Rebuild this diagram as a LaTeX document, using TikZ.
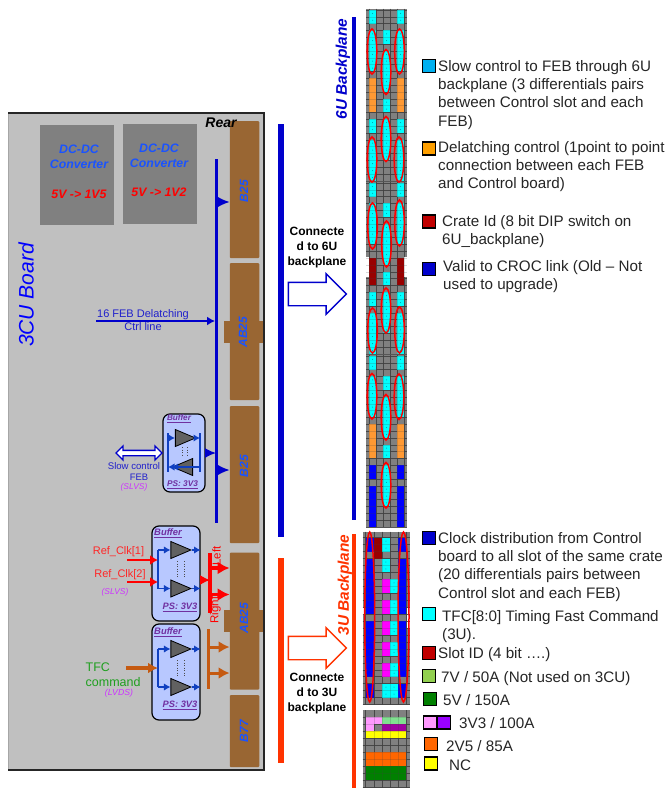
\documentclass[tikz,border=0pt]{standalone}
\usepackage{fontspec}
\setmainfont{Liberation Sans}
\usetikzlibrary{arrows.meta,shapes.geometric,shapes.arrows,calc}
\definecolor{brd}{HTML}{C0C0C0}
\definecolor{brownc}{HTML}{996633}
\definecolor{busblue}{HTML}{0000CC}
\definecolor{txtblue}{HTML}{1A53FF}
\definecolor{lblblue}{HTML}{2020CC}
\definecolor{bufblue}{HTML}{1040C0}
\definecolor{buffill}{HTML}{B8C8FF}
\definecolor{bufpur}{HTML}{7030A0}
\definecolor{pinkt}{HTML}{CC33FF}
\definecolor{tfcor}{HTML}{C55A11}
\definecolor{redor}{HTML}{FF3300}
\definecolor{tfcgr}{HTML}{1F9F1F}
\definecolor{gcell}{HTML}{808080}
\definecolor{gline}{HTML}{404040}
\definecolor{orcell}{HTML}{FF9933}
\definecolor{crred}{HTML}{990000}
\definecolor{ccyan}{HTML}{00FFFF}
\definecolor{cmag}{HTML}{FF00FF}
\definecolor{cyel}{HTML}{FFFF00}
\definecolor{cpink}{HTML}{FF99FF}
\definecolor{cpur}{HTML}{A000A0}
\definecolor{lpur}{HTML}{9900FF}
\definecolor{clgr}{HTML}{80E090}
\definecolor{cora}{HTML}{FF6600}
\definecolor{cgrn}{HTML}{008000}
\definecolor{cdot}{HTML}{009AA8}
\definecolor{legblue}{HTML}{0000CC}
\definecolor{legred}{HTML}{C00000}
\definecolor{legcy}{HTML}{00B0F0}
\definecolor{legor}{HTML}{FFA000}
\definecolor{leglg}{HTML}{92D050}
\newcommand{\fsz}[2]{\fontsize{#1}{#2}\selectfont}
\tikzset{
 x=1pt,y=-1pt,
 conn/.style={fill=brownc,rounded corners=1pt,inner sep=0pt,minimum width=29.5pt},
 conntab/.style={fill=brownc,inner sep=0pt,minimum width=39pt,minimum height=22pt},
 connlbl/.style={rotate=90,text=txtblue,font=\fsz{12}{14}\bfseries\itshape,inner sep=0pt},
 dcbox/.style={fill=gcell,inner sep=0pt,minimum width=74pt,minimum height=100pt},
 dcl/.style={font=\fsz{12.3}{15}\bfseries\itshape,inner sep=0pt,align=center},
 bufbox/.style={draw=black,line width=1.2pt,fill=buffill,rounded corners=7pt,inner sep=0pt},
 buftxt/.style={text=bufpur,font=\bfseries\itshape,inner sep=0pt},
 trir/.style={isosceles triangle,isosceles triangle apex angle=60,isosceles triangle stretches,draw=black,line width=.8pt,fill=black!62,inner sep=0pt,minimum height=20pt,minimum width=17pt,shape border rotate=0},
 tril/.style={trir,shape border rotate=180},
 bufar/.style={bufblue,line width=1.3pt,-{Latex[length=6.5pt,width=7.5pt]}},
 bufln/.style={bufblue,line width=1.3pt},
 busar/.style={busblue,line width=1.6pt,-{Latex[length=13pt,width=12pt]}},
 redar/.style={red,line width=3.2pt,-{Latex[length=12pt,width=13pt]}},
 orar/.style={tfcor,line width=3pt,-{Latex[length=11pt,width=12pt]}},
 lbl/.style={inner sep=0pt,align=center},
 bigarr/.style={single arrow,draw,line width=1.4pt,fill=white,inner sep=0pt,minimum height=58pt,minimum width=38pt,single arrow head extend=8.5pt,single arrow head indent=0pt,shape border rotate=0,text height=14pt,text depth=8pt,text width=1pt},
 contxt/.style={inner sep=0pt,align=center,font=\fsz{12}{15}\bfseries},
 legbox/.style={draw=black,line width=1.3pt,inner sep=0pt,minimum width=13pt,minimum height=13pt},
 legtxt/.style={inner sep=0pt,anchor=north west,align=left,font=\fsz{15.2}{18.3},text=black!85},
 ovl/.style={draw=red,line width=1.5pt},
}
% cell block: column, first row, last row, colour
\newcommand{\blk}[4]{\fill[#4] ({\gx+#1*\cw},{\gy+#2*\rh}) rectangle ({\gx+(#1+1)*\cw},{\gy+(#3+1)*\rh});}
% cyan block with tiny marks
\newcommand{\cyb}[3]{\blk{#1}{#2}{#3}{ccyan}\foreach \rr in {#2,...,#3}{\fill[cdot] ({\gx+(#1+.5)*\cw},{\gy+(\rr+.5)*\rh}) circle (.5pt);}}
\newcommand{\glines}[5]{%
 \foreach \ii in {0,...,5}{\draw[gline,line width=.45pt,opacity=#5] ({\gx+\ii*\cw},#3) -- ({\gx+\ii*\cw},#4);}
 \pgfmathtruncatemacro{\nr}{(#4-\gy)/\rh}
 \foreach \ii in {0,...,\nr}{\draw[gline,line width=.45pt,opacity=#5] (#1,{\gy+\ii*\rh}) -- (#2,{\gy+\ii*\rh});}
}
\newcommand{\ovalc}[4]{\draw[ovl] (#1,{(#2+#3)/2}) ellipse [x radius=#4 pt,y radius={(#3-#2)/2 pt}];}
\begin{document}
\begin{tikzpicture}
\useasboundingbox (0,0) rectangle (668,788);
\fill[white] (0,0) rectangle (668,788);
% ---------- board
\fill[brd] (8,113) rectangle (264,770);
\draw[black!35,line width=1pt] (8,770) -- (8,113);
\draw[black!85,line width=1.2pt] (8,113) -- (264,113) -- (264,770) -- (8,770);
\node[rotate=90,text=blue,font=\fsz{21}{24}\itshape,inner sep=0pt] (brdname) at (26,295) {3CU Board};
\node[dcbox] (dc1) at (77,175) {};
\node[dcbox] (dc2) at (160,174) {};
\node[dcl,text=txtblue] (dc1a) at (79,157) {DC-DC\\Converter};
\node[dcl,text=red] (dc1b) at (79,194) {5V -> 1V5};
\node[dcl,text=txtblue] (dc2a) at (159,156) {DC-DC\\Converter};
\node[dcl,text=red] (dc2b) at (159,192) {5V -> 1V2};
% ---------- connectors
\node[conn,minimum height=137pt] (b1) at (244.5,189.5) {};
\node[conn,minimum height=137pt] (ab1) at (244.5,331.5) {};
\node[conntab] (ab1t) at (243.5,332) {};
\node[conn,minimum height=137pt] (b2) at (244.5,474.5) {};
\node[conn,minimum height=137pt] (ab2) at (244.5,621) {};
\node[conntab] (ab2t) at (243,621) {};
\node[conn,minimum height=72pt] (b77) at (244.5,731) {};
\node[connlbl] (b1l) at (244,191) {B25};
\node[connlbl] (ab1l) at (243,332) {AB25};
\node[connlbl] (b2l) at (244,466) {B25};
\node[connlbl] (ab2l) at (244,618) {AB25};
\node[connlbl] (b77l) at (244,731) {B77};
\node[inner sep=0pt,font=\fsz{14}{16}\bfseries\itshape] (rear) at (221,122.5) {Rear};
% ---------- delatching bus
\coordinate (bustop) at (216,159);
\coordinate (busbot) at (216,523);
\draw[busblue,line width=3pt] (bustop) -- (busbot);
\coordinate (tapa) at (216,202);
\draw[busar] (tapa) -- (tapa -| b1.west);
\coordinate (tapb) at (216,470);
\draw[busar] (tapb) -- (tapb -| b2.west);
\coordinate (delin) at (96,321);
\coordinate (delout) at (215,321);
\draw[busblue,line width=1.5pt,-{Latex[length=8pt,width=9pt]}] (delin) -- (delout);
\node[lbl,text=lblblue,font=\fsz{11}{13}] (deltxt) at (143,320.5) {16 FEB Delatching\\Ctrl line};
% ---------- buffer 1
\node[bufbox,minimum width=42pt,minimum height=78pt] (buf1) at (184,453) {};
\node[buftxt,font=\fsz{8.2}{10}\bfseries\itshape] (buf1t) at (179,419) {\underline{Buffer}};
\node[buftxt,font=\fsz{8.3}{10}\bfseries\itshape] (buf1p) at (182.5,485) {\underline{PS: 3V3}};
\node[trir] (t1a) at (181,438) {};
\node[tril] (t1b) at (187,467) {};
\coordinate (l1a) at (168,433); \coordinate (l1b) at (168,472);
\coordinate (r1a) at (200,433); \coordinate (r1b) at (200,472);
\draw[bufln] (l1a) -- (l1b); \draw[bufln] (r1a) -- (r1b);
\draw[bufar] (l1a |- t1a) -- (t1a.lower side);
\draw[bufar] (t1a.apex) -- (r1a |- t1a);
\draw[bufar] (r1b |- t1b) -- (t1b.apex);
\draw[bufar] (t1b.lower side) -- (l1b |- t1b);
\foreach \xx in {182,187}{\draw[black!70,line width=.9pt,dash pattern=on 1pt off 1.5pt] (\xx,447) -- (\xx,456);}
\draw[busblue,line width=1.6pt,-{Latex[length=11pt,width=10pt]}] (buf1.east) -- (busbot |- buf1.east);
\node[double arrow,draw=busblue,line width=1.4pt,fill=white,inner sep=0pt,minimum height=46pt,minimum width=14pt,double arrow head extend=3.5pt,text height=2pt,text depth=1pt,text width=1pt] (slow) at (139,453) {};
\node[lbl,text=lblblue,font=\fsz{9.6}{11}] (slowt) at (134,466.5) {Slow control};
\node[lbl,text=lblblue,font=\fsz{9.4}{11}] (slowf) at (139,477) {FEB};
\node[lbl,text=pinkt,font=\fsz{8.4}{9}\itshape] (slowl) at (134,487) {(SLVS)};
% ---------- buffer 2
\node[bufbox,minimum width=48pt,minimum height=95pt] (buf2) at (176,573.5) {};
\node[buftxt,font=\fsz{9.4}{11}\bfseries\itshape] (buf2t) at (168,533) {\underline{Buffer}};
\node[buftxt,font=\fsz{9.3}{11}\bfseries\itshape] (buf2p) at (180,607) {\underline{PS: 3V3}};
\node[trir] (t2a) at (176.5,550) {};
\node[trir] (t2b) at (176.5,588.5) {};
\coordinate (l2a) at (158,550); \coordinate (l2b) at (158,588.5);
\draw[bufln] (l2a) -- (l2b);
\draw[bufar] (l2a) -- (t2a.lower side);
\draw[bufar] (l2b) -- (t2b.lower side);
\draw[bufar] (t2a.apex) -- (t2a.apex -| buf2.east);
\draw[bufar] (t2b.apex) -- (t2b.apex -| buf2.east);
\foreach \xx in {177,184}{\draw[black!70,line width=.9pt,dash pattern=on 1pt off 1.5pt] (\xx,561) -- (\xx,577);}
\coordinate (clk1) at (127,560); \coordinate (clk1e) at (158,560);
\coordinate (clk2) at (127,582); \coordinate (clk2e) at (158,582);
\draw[red,line width=2.8pt,-{Latex[length=8pt,width=10pt]}] (clk1) -- (clk1e);
\draw[red,line width=2.8pt,-{Latex[length=8pt,width=10pt]}] (clk2) -- (clk2e);
\node[lbl,text=red!85!white,font=\fsz{11}{13}] (clk1t) at (118.5,552) {Ref\_Clk[1]};
\node[lbl,text=red!85!white,font=\fsz{11}{13}] (clk2t) at (120,575) {Ref\_Clk[2]};
\node[lbl,text=pinkt,font=\fsz{8.4}{10}\itshape] (clk2l) at (115,592.5) {(SLVS)};
\coordinate (rbt) at (210,553); \coordinate (rbb) at (210,613);
\draw[red,line width=3.4pt] (rbt) -- (rbb);
\coordinate (rin) at (200,580);
\draw[red,line width=1.5pt,-{Latex[length=10pt,width=10pt]}] (rin) -- (rin -| rbt);
\coordinate (ra) at (210,568); \coordinate (rb) at (210,594.5);
\draw[redar] (ra) -- (ra -| ab2.west);
\draw[redar] (rb) -- (rb -| ab2.west);
\node[rotate=90,inner sep=0pt,text=red,font=\fsz{11.5}{13}] (leftt) at (216.5,556) {Left};
\node[rotate=90,inner sep=0pt,text=red,font=\fsz{11.5}{13}] (rightt) at (215.5,610) {Right};
% ---------- buffer 3
\node[bufbox,minimum width=48pt,minimum height=96pt] (buf3) at (176,672) {};
\node[buftxt,font=\fsz{9.4}{11}\bfseries\itshape] (buf3t) at (168,632) {\underline{Buffer}};
\node[buftxt,font=\fsz{9.3}{11}\bfseries\itshape] (buf3p) at (180,705) {\underline{PS: 3V3}};
\node[trir] (t3a) at (176.5,649) {};
\node[trir] (t3b) at (176.5,687) {};
\coordinate (l3a) at (158,649); \coordinate (l3b) at (158,687);
\draw[bufln] (l3a) -- (l3b);
\draw[bufar] (l3a) -- (t3a.lower side);
\draw[bufar] (l3b) -- (t3b.lower side);
\draw[bufar] (t3a.apex) -- (t3a.apex -| buf3.east);
\draw[bufar] (t3b.apex) -- (t3b.apex -| buf3.east);
\foreach \xx in {177,184}{\draw[black!70,line width=.9pt,dash pattern=on 1pt off 1.5pt] (\xx,660) -- (\xx,676);}
\coordinate (tfcin) at (126,668); \coordinate (tfce) at (158,668);
\draw[tfcor,line width=3.4pt,-{Latex[length=10pt,width=11pt]}] (tfcin) -- (tfce);
\coordinate (obt) at (208,629); \coordinate (obb) at (208,689);
\draw[tfcor,line width=3pt] (obt) -- (obb);
\coordinate (oa) at (208,647); \coordinate (ob) at (208,673);
\draw[orar] (oa) -- (oa -| ab2.west);
\draw[orar] (ob) -- (ob -| ab2.west);
\node[lbl,text=tfcgr,font=\fsz{12.5}{14},anchor=west] (tfct) at (85.5,667) {TFC};
\node[lbl,text=tfcgr,font=\fsz{12.5}{14},anchor=west] (tfcc) at (85.5,682) {command};
\node[lbl,text=pinkt,font=\fsz{8.7}{10}\itshape] (tfcl) at (119,693.5) {(LVDS)};
% ---------- long bars and big arrows
\coordinate (b6a) at (280.5,124); \coordinate (b6b) at (280.5,537);
\draw[busblue,line width=6pt] (b6a) -- (b6b);
\coordinate (b3a) at (280.5,558); \coordinate (b3b) at (280.5,763);
\draw[redor,line width=6pt] (b3a) -- (b3b);
\coordinate (p6a) at (354,17); \coordinate (p6b) at (354,520);
\draw[busblue,line width=4.5pt] (p6a) -- (p6b);
\coordinate (p3a) at (354,534); \coordinate (p3b) at (354,788);
\draw[redor,line width=4.5pt] (p3a) -- (p3b);
\node[rotate=90,inner sep=0pt,text=busblue,font=\fsz{15.4}{17}\bfseries\itshape] (l6u) at (343,69) {6U Backplane};
\node[rotate=90,inner sep=0pt,text=redor,font=\fsz{15.4}{17}\bfseries\itshape] (l3u) at (345,585) {3U Backplane};
\node[contxt] (c6) at (317,248) {Connecte\\d to 6U\\backplane};
\node[contxt] (c3) at (317,694) {Connecte\\d to 3U\\backplane};
\node[bigarr,draw=busblue] (arr6) at (311.5,294) {};
\node[bigarr,draw=redor] (arr3) at (311.5,648) {};
% ---------- 6U panels
\def\gx{369}\def\cw{7}\def\rh{6.83}
\foreach \tp/\kind in {10/1,183/2,356/3}{
 \begingroup
 \edef\gy{\tp}
 \fill[gcell] (366,\gy-1.5) rectangle (407,{\gy+171});
 \glines{366}{407}{\gy-1.5}{\gy+171}{.85}
 \cyb{0}{3}{8}\cyb{4}{3}{8}
 \cyb{2}{3}{4}\cyb{2}{6}{11}\cyb{2}{13}{14}\cyb{2}{16}{21}
 \cyb{0}{0}{1}\cyb{4}{0}{1}
 \ifnum\kind=1
  \blk{0}{10}{14}{orcell}\blk{4}{10}{14}{orcell}
  \cyb{0}{16}{17}\cyb{4}{16}{17}\cyb{0}{19}{24}\cyb{4}{19}{24}
 \fi
 \ifnum\kind=2
  \blk{0}{11}{14}{crred}\blk{4}{11}{14}{crred}
  \fill[white] (366,\gy+74) rectangle (369,\gy+94);
  \fill[white] (404,\gy+74) rectangle (407,\gy+94);
  \cyb{0}{16}{17}\cyb{4}{16}{17}\cyb{0}{19}{24}\cyb{4}{19}{24}
 \fi
 \ifnum\kind=3
  \blk{0}{10}{14}{orcell}\blk{4}{10}{14}{orcell}
  \blk{0}{16}{17}{blue}\blk{4}{16}{17}{blue}\blk{0}{19}{24}{blue}\blk{4}{19}{24}{blue}
 \fi
 \glines{366}{407}{\gy-1.5}{\gy+171}{.2}
 \endgroup
}
% ovals
\ovalc{372}{29}{74}{4.8}\ovalc{386}{49.5}{94.5}{4.8}\ovalc{399.5}{29}{74}{4.8}
\ovalc{372}{137}{182}{4.8}\ovalc{386}{116.5}{161.5}{4.8}\ovalc{399}{137}{182}{4.8}
\ovalc{372.5}{203}{249}{4.8}\ovalc{386.5}{221}{267}{4.8}\ovalc{399.5}{200}{246}{4.8}
\ovalc{372.5}{308}{353}{4.8}\ovalc{386}{288}{333}{4.8}\ovalc{399.5}{307}{353}{4.8}
\ovalc{372}{373.5}{419}{4.8}\ovalc{386}{394.5}{440}{4.8}\ovalc{399}{374}{419.5}{4.8}
\ovalc{386}{462.5}{508}{4.8}
% ---------- 3U panel
\def\gx{365.7}\def\cw{8.1}\def\rh{6.95}\def\gy{537.7}
\fill[gcell] (362.5,531.7) rectangle (410,705);
\fill[white] (362.5,608) rectangle (365.7,615);
\fill[white] (406.5,608) rectangle (410,628);
\glines{362.5}{410}{531.7}{705}{.85}
\foreach \cc in {0,4}{\blk{\cc}{0}{1}{blue}\blk{\cc}{3}{10}{blue}\blk{\cc}{12}{19}{blue}\blk{\cc}{21}{22}{blue}}
\blk{1}{0}{2}{crred}
\cyb{2}{0}{1}\cyb{2}{3}{4}
\foreach \rs/\re in {6/7,9/10,12/13,15/16,18/19}{\blk{2}{\rs}{\re}{cmag}\cyb{3}{\rs}{\re}}
\cyb{2}{21}{22}\cyb{3}{21}{22}
\glines{362.5}{410}{531.7}{705}{.2}
\ovalc{369.7}{532}{702}{5}\ovalc{403.5}{532}{702}{5.5}
% ---------- bottom panel
\def\gy{717.3}
\fill[gcell] (362.5,710) rectangle (410,788);
\glines{362.5}{410}{710}{788}{.85}
\blk{0}{0}{0}{cpink}\blk{1}{0}{0}{cpink}\blk{0}{1}{1}{cpink}
\foreach \cc in {2,3,4}{\blk{\cc}{0}{0}{clgr}\blk{\cc}{1}{1}{cpur}}
\foreach \cc in {0,...,4}{\blk{\cc}{2}{2}{cyel}\blk{\cc}{5}{6}{cora}\blk{\cc}{7}{8}{cgrn}}
\glines{362.5}{410}{710}{788}{.2}
% ---------- legend top
\node[legbox,fill=legcy] (k1) at (429,66) {};
\node[legtxt] (k1t) at (438,60) {Slow control to FEB through 6U\\backplane (3 differentials pairs\\between Control slot and each\\FEB)};
\node[legbox,fill=legor] (k2) at (429,148.5) {};
\node[legtxt] (k2t) at (438,141) {Delatching control (1point to point\\connection between each FEB\\and Control board)};
\node[legbox,fill=legred] (k3) at (429,221.5) {};
\node[legtxt] (k3t) at (442,215) {Crate Id (8 bit DIP switch on\\6U\_backplane)};
\node[legbox,fill=legblue] (k4) at (429,269) {};
\node[legtxt] (k4t) at (443,260) {Valid to CROC link (Old – Not\\used to upgrade)};
% ---------- legend bottom
\node[legbox,fill=legblue] (k5) at (429,538) {};
\node[legtxt] (k5t) at (438,532) {Clock distribution from Control\\board to all slot of the same crate\\(20 differentials pairs between\\Control slot and each FEB)};
\node[legbox,fill=ccyan] (k6) at (429,614) {};
\node[legtxt] (k6t) at (442,610) {TFC[8:0] Timing Fast Command\\(3U).};
\node[legbox,fill=legred] (k7) at (429,653) {};
\node[legtxt] (k7t) at (438,647) {Slot ID (4 bit ….)};
\node[legbox,fill=leglg] (k8) at (429,676) {};
\node[legtxt] (k8t) at (441,671) {7V / 50A (Not used on 3CU)};
\node[legbox,fill=cgrn] (k9) at (430,699) {};
\node[legtxt] (k9t) at (443,694) {5V / 150A};
\node[legbox,fill=cpink] (k10) at (430,722.5) {};
\node[legbox,fill=lpur] (k10b) at (444,722.5) {};
\node[legtxt] (k10t) at (459,717) {3V3 / 100A};
\node[legbox,fill=cora] (k11) at (431,744) {};
\node[legtxt] (k11t) at (446,740) {2V5 / 85A};
\node[legbox,fill=cyel] (k12) at (431,763.5) {};
\node[legtxt] (k12t) at (449,760) {NC};
\end{tikzpicture}
\end{document}
